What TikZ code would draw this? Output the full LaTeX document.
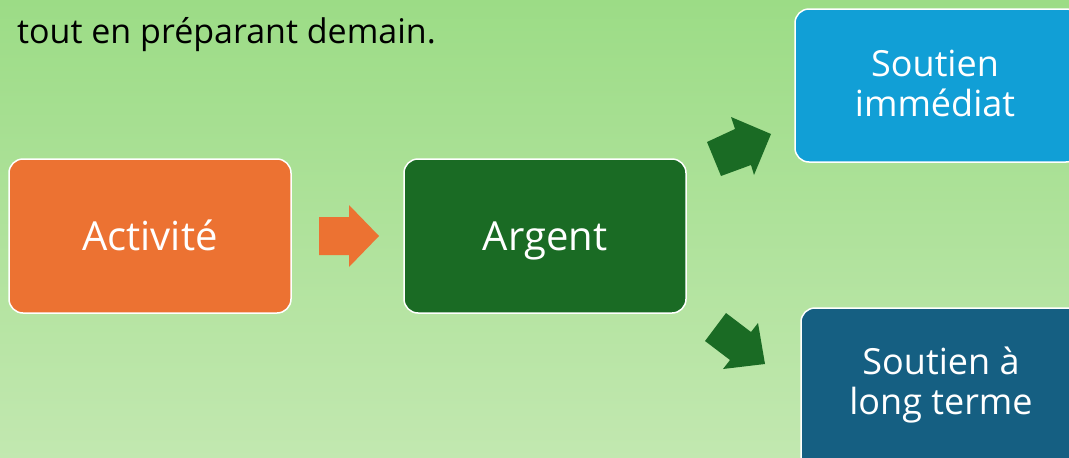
\documentclass[tikz,border=0pt]{standalone}
\usepackage{fontspec}
\setmainfont{Open Sans}
\begin{document}
\begin{tikzpicture}[x=1pt,y=-1pt,
  boxst/.style={draw=white,line width=1.5pt,rounded corners=14pt},
  lbl/.style={text=white,anchor=base,inner sep=0pt,font=\fontsize{#1}{#1}\selectfont}]
\definecolor{bgtop}{RGB}{156,220,134}
\definecolor{bgbot}{RGB}{194,232,176}
\definecolor{orangec}{RGB}{236,114,50}
\definecolor{greenc}{RGB}{26,107,36}
\definecolor{bluec}{RGB}{17,159,214}
\definecolor{tealc}{RGB}{21,95,130}
\useasboundingbox (0,0) rectangle (1069,458);
\clip (0,0) rectangle (1069,458);
\shade[top color=bgtop,bottom color=bgbot] (0,0) rectangle (1069,458);
\node[anchor=base west,font=\fontsize{34}{34}\selectfont,inner sep=0pt] (intro) at (17,43) {tout en préparant demain.};
\draw[boxst,fill=orangec] (9,159) rectangle (291,313);
\node[lbl=40] (act) at (150,250) {Activité};
\draw[boxst,fill=greenc] (404,159) rectangle (686,313);
\node[lbl=40] (arg) at (545,250) {Argent};
\draw[boxst,fill=bluec] (795,9) rectangle (1080,162);
\node[lbl=36] (imm1) at (935,76) {Soutien};
\node[lbl=36] (imm2) at (935,116) {immédiat};
\draw[boxst,fill=tealc] (801,308) rectangle (1086,470);
\node[lbl=36] (long1) at (941,374) {Soutien à};
\node[lbl=36] (long2) at (941,414) {long terme};
% orange arrow
\fill[orangec] (319,217) -- (349,217) -- (349,205) -- (379,236) -- (349,267) -- (349,255) -- (319,255) -- cycle;
% green arrows
\fill[greenc] (707,142) -- (735,129) -- (731,117) -- (771,134) -- (754,175) -- (751,165) -- (721,176) -- cycle;
\fill[greenc] (726,313) -- (751,332) -- (758,323) -- (765,364) -- (723,369) -- (730,360) -- (705,341) -- cycle;
\end{tikzpicture}
\end{document}
